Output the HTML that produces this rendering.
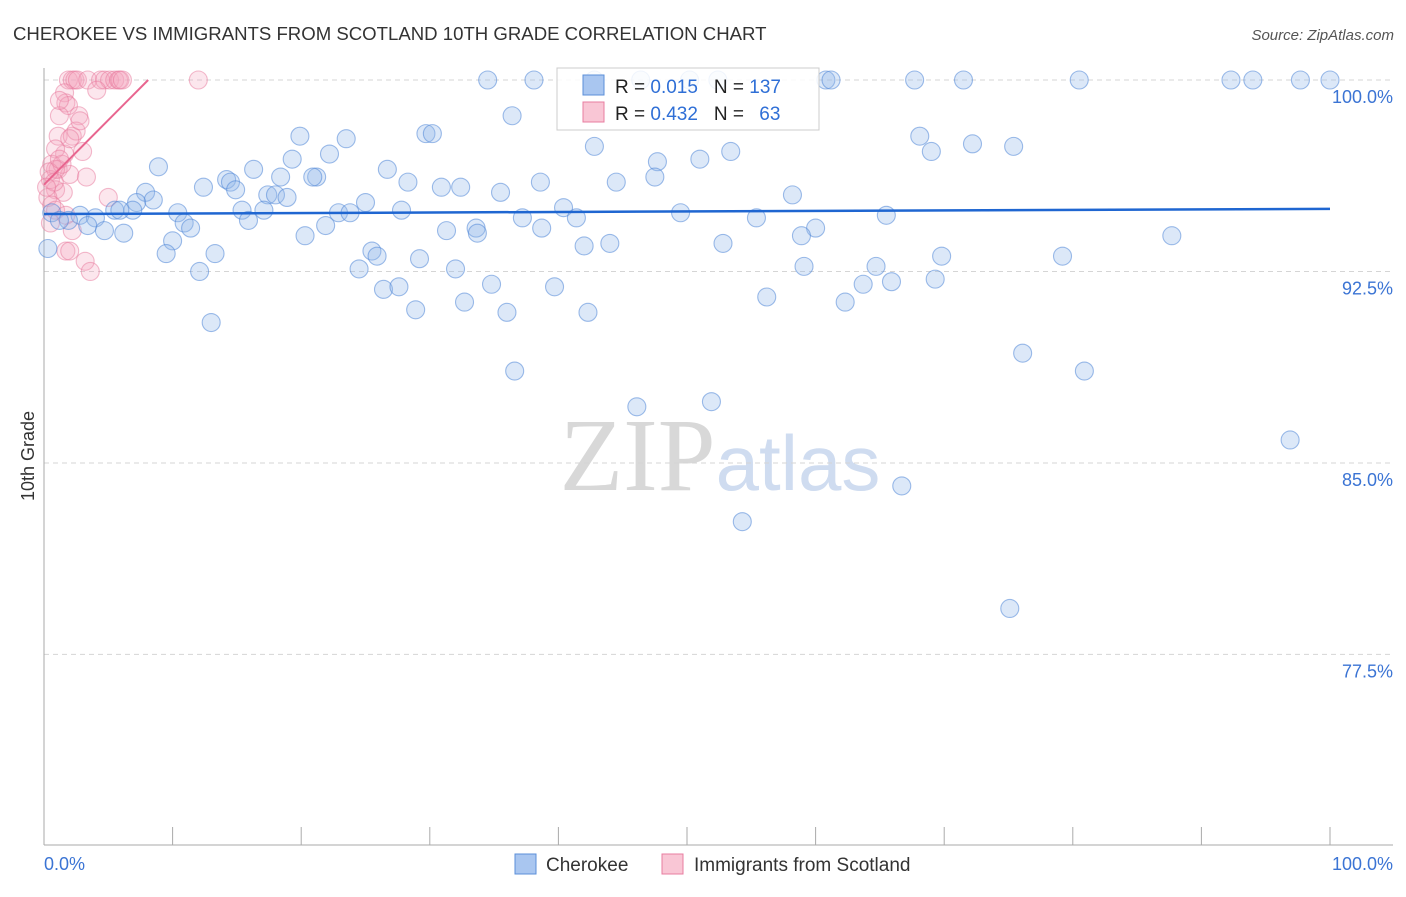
<!DOCTYPE html>
<html><head><meta charset="utf-8"><style>
body{margin:0;background:#fff;font-family:"Liberation Sans",sans-serif;}
</style></head><body>
<svg width="1406" height="892" xmlns="http://www.w3.org/2000/svg" id="chart" font-family="Liberation Sans, sans-serif">
<text x="13" y="40" font-size="18.6" fill="#333">CHEROKEE VS IMMIGRANTS FROM SCOTLAND 10TH GRADE CORRELATION CHART</text>
<text x="1394" y="40" font-size="15" fill="#555" text-anchor="end" font-style="italic">Source: ZipAtlas.com</text>
<text x="34" y="456" font-size="18" fill="#333" text-anchor="middle" transform="rotate(-90 34 456)">10th Grade</text>
<text x="720" y="490" font-size="104" fill="#ddd" text-anchor="middle" font-family="Liberation Serif, serif"><tspan fill="#d8d8d8">ZIP</tspan><tspan fill="#cfdcf0" font-family="Liberation Sans, sans-serif" font-size="78">atlas</tspan></text>
<g id="grid"></g><g id="pts"></g><g id="lines"></g>
<g>
<rect x="557" y="68" width="262" height="62" fill="#fff" fill-opacity="0.85" stroke="#ccc"/>
<rect x="583" y="75" width="21" height="20" fill="#a9c6f0" stroke="#5b8fd9"/>
<rect x="583" y="102" width="21" height="20" fill="#f9c6d5" stroke="#e87da0"/>
<text x="615" y="93" font-size="19" fill="#222">R = <tspan fill="#2f6fd6">0.015</tspan><tspan dx="16" fill="#222">N = </tspan><tspan fill="#2f6fd6">137</tspan></text>
<text x="615" y="120" font-size="19" fill="#222">R = <tspan fill="#2f6fd6">0.432</tspan><tspan dx="16" fill="#222">N = </tspan><tspan dx="10" fill="#2f6fd6">63</tspan></text>
</g>
<g>
<rect x="515" y="854" width="21" height="20" fill="#a9c6f0" stroke="#5b8fd9"/>
<text x="546" y="871" font-size="19" fill="#333">Cherokee</text>
<rect x="662" y="854" width="21" height="20" fill="#f9c6d5" stroke="#e87da0"/>
<text x="694" y="871" font-size="19" fill="#333">Immigrants from Scotland</text>
</g>
</svg>
<script>
const blueX=[34.5,38.1,46.4,52.4,60.8,61.2,67.7,71.5,80.5,92.3,94.0,97.7,100,42.8,50.2,36.4,19.9,29.7,30.2,23.5,42.8,68.1,72.2,75.4,69.0,53.4,22.2,19.3,8.9,16.3,26.7,47.7,51.0,47.5,21.2,20.9,14.2,18.4,14.5,28.3,38.6,44.5,12.4,14.9,30.9,32.4,7.9,35.5,58.2,17.4,18.0,18.9,8.5,7.2,6.9,5.5,5.9,0.6,2.8,4.0,10.4,15.4,17.1,22.9,23.8,25.0,27.8,40.4,41.4,37.2,49.5,55.4,65.5,1.9,3.4,1.2,4.7,6.2,10.9,11.4,15.9,21.9,31.3,33.6,33.7,38.7,60.0,58.9,10.0,20.3,42.0,44.0,52.8,87.7,79.2,9.5,13.3,25.5,25.9,29.2,24.5,32.0,12.1,59.1,64.7,69.8,69.3,26.4,27.6,34.8,39.7,63.7,65.9,56.2,32.7,28.9,36.0,42.3,62.3,13.0,76.1,36.6,80.9,46.1,51.9,96.9,66.7,54.3,75.1,0.3];
const blueY=[100,100,100,100,100,100,100,100,100,100,100,100,100,100,100,98.6,97.8,97.9,97.9,97.7,97.4,97.8,97.5,97.4,97.2,97.2,97.1,96.9,96.6,96.5,96.5,96.8,96.9,96.2,96.2,96.2,96.1,96.2,96.0,96.0,96.0,96.0,95.8,95.7,95.8,95.8,95.6,95.6,95.5,95.5,95.5,95.4,95.3,95.2,94.9,94.9,94.9,94.8,94.7,94.6,94.8,94.9,94.9,94.8,94.8,95.2,94.9,95.0,94.6,94.6,94.8,94.6,94.7,94.5,94.3,94.5,94.1,94.0,94.4,94.2,94.5,94.3,94.1,94.2,94.0,94.2,94.2,93.9,93.7,93.9,93.5,93.6,93.6,93.9,93.1,93.2,93.2,93.3,93.1,93.0,92.6,92.6,92.5,92.7,92.7,93.1,92.2,91.8,91.9,92.0,91.9,92.0,92.1,91.5,91.3,91.0,90.9,90.9,91.3,90.5,89.3,88.6,88.6,87.2,87.4,85.9,84.1,82.7,79.3,93.4];
const blueSize=[];blueSize[136]=2;
const pinkX=[1.9,2.2,2.4,2.6,3.4,4.4,4.7,5.1,5.5,5.8,5.9,6.1,12.0,1.6,4.1,1.7,1.9,2.7,1.2,1.1,2.2,1.6,3.0,0.9,0.6,1.1,2.0,3.3,0.5,0.9,1.5,0.3,0.6,5.0,0.9,1.7,0.5,2.2,1.7,2.0,3.2,3.6,0.9,1.4,0.4,0.8,0.2,1.2,2.5,2.0,2.8,1.2];
const pinkY=[100,100,100,100,100,100,100,100,100,100,100,100,100,99.5,99.6,99.1,99.0,98.6,98.6,97.8,97.8,97.1,97.2,97.3,96.7,96.5,96.3,96.2,96.1,95.7,95.6,95.4,95.1,95.4,94.9,94.7,94.4,94.1,93.3,93.3,92.9,92.5,96.5,96.7,96.4,96.0,95.8,96.9,98.0,97.7,98.4,99.2];
const yTicks=[100,92.5,85,77.5];
const yTickLabels=["100.0%","92.5%","85.0%","77.5%"];
const blueTrend=[94.75,94.95];
const pinkTrend=[[0,95.9],[8.1,100]];
const NS="http://www.w3.org/2000/svg";
const X=v=>44+v*12.86, Y=v=>80+(100-v)*25.53;
function mk(t,a,p){const e=document.createElementNS(NS,t);for(const k in a)e.setAttribute(k,a[k]);p.appendChild(e);return e;}
const grid=document.getElementById('grid');
yTicks.forEach((t,i)=>{
 const l=mk('line',{x1:44,x2:1393,y1:Y(t),y2:Y(t),stroke:'#d5d5d5','stroke-dasharray':'5,4'},grid);
 
 
 const tx=mk('text',{x:1393,y:Y(t)+23,'text-anchor':'end','font-size':18,fill:'#3b74d4'},grid);
 tx.textContent=yTickLabels[i];
 
 
});
const ax=mk('line',{x1:44,x2:44,y1:68,y2:845,stroke:'#aaa'},grid);


const bx=mk('line',{x1:44,x2:1393,y1:845,y2:845,stroke:'#aaa'},grid);


for(let i=0;i<=10;i++){const t=mk('line',{x1:X(i*10),x2:X(i*10),y1:827,y2:845,stroke:'#aaa'},grid);
 
 }
const x0=mk('text',{x:44,y:870,'font-size':18,fill:'#3b74d4'},grid);x0.textContent='0.0%';


const x1=mk('text',{x:1393,y:870,'font-size':18,fill:'#3b74d4','text-anchor':'end'},grid);x1.textContent='100.0%';


const pts=document.getElementById('pts');
pinkX.forEach((v,i)=>{const c=mk('circle',{cx:X(v),cy:Y(pinkY[i]),r:9,fill:'rgba(245,165,190,0.28)',stroke:'rgba(232,120,155,0.5)','stroke-width':1.1},pts);
 
 });
blueX.forEach((v,i)=>{const big=blueSize[i]||1;const c=mk('circle',{cx:X(v),cy:Y(blueY[i]),r:9*big,fill:big>1?'rgba(150,185,235,0.2)':'rgba(150,185,235,0.33)',stroke:'rgba(80,135,215,0.55)','stroke-width':1.1},pts);
 
 });
const lines=document.getElementById('lines');
const bl=mk('line',{x1:X(0),x2:X(100),y1:Y(blueTrend[0]),y2:Y(blueTrend[1]),stroke:'#1f66d1','stroke-width':2.5},lines);


const pl=mk('line',{x1:X(pinkTrend[0][0]),x2:X(pinkTrend[1][0]),y1:Y(pinkTrend[0][1]),y2:Y(pinkTrend[1][1]),stroke:'#e8658f','stroke-width':2},lines);


</script>
</body></html>
